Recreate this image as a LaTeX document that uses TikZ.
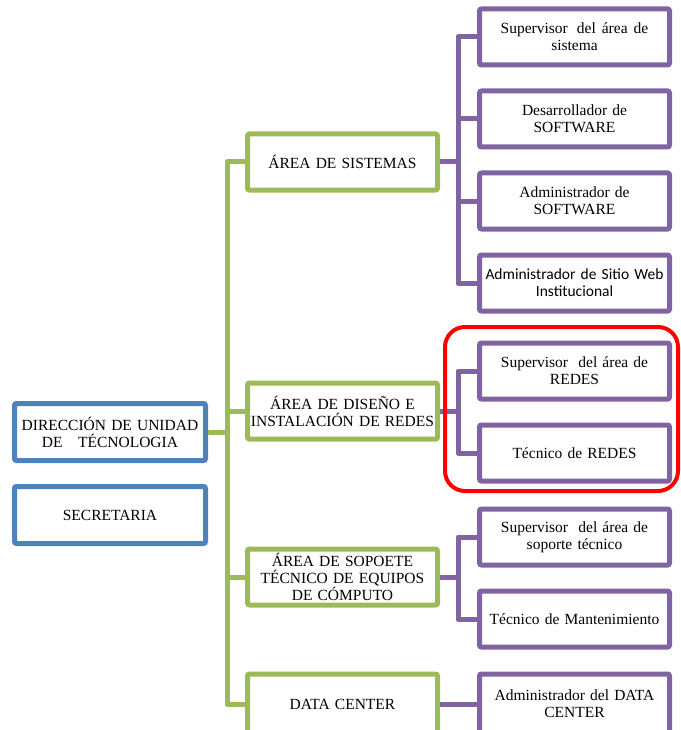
\documentclass[tikz,border=0pt]{standalone}
\usepackage{fontspec}
\setmainfont{Liberation Serif}
\newfontfamily\sansfont{Carlito}
\usetikzlibrary{positioning}
\definecolor{dirblue}{HTML}{4F81BD}
\definecolor{areagreen}{HTML}{9BBB59}
\definecolor{rolepurple}{HTML}{8064A2}

\begin{document}
\begin{tikzpicture}[x=1pt,y=-1pt,line width=5pt,node distance=82pt,
                    font=\fontsize{15.5}{17}\selectfont]
  \tikzstyle{every node}=[align=center,inner sep=2pt,rounded corners=2pt,fill=white]
  \tikzstyle{dirbox}=[draw=dirblue,minimum width=191pt,minimum height=57pt,text width=185pt]
  \tikzstyle{areabox}=[draw=areagreen,minimum width=190pt,minimum height=56pt,text width=184pt]
  \tikzstyle{rolebox}=[draw=rolepurple,minimum width=190pt,minimum height=56pt,text width=184pt]
  \tikzstyle{greenlink}=[draw=areagreen,line join=round]
  \tikzstyle{purplelink}=[draw=rolepurple,line join=round]
  \tikzstyle{redframe}=[draw=red,line width=4pt,rounded corners=20pt]

  \useasboundingbox (0,0) rectangle (680,730);
  \coordinate (trunk) at (227,0);
  \coordinate (bus) at (458,0);

  % direccion
  \node[dirbox] (dir) at (110,432) {DIRECCIÓN DE UNIDAD\\DE \ \ TÉCNOLOGIA};
  \node[dirbox] (sec) at (110,515) {SECRETARIA};

  % areas
  \node[areabox] (sis) at (342.5,162) {ÁREA DE SISTEMAS};
  \node[areabox] (dis) at (342.5,411) {ÁREA DE DISEÑO E\\INSTALACIÓN DE REDES};
  \node[areabox] (sop) at (342.5,577) {ÁREA DE SOPOETE\\TÉCNICO DE EQUIPOS\\DE CÓMPUTO};
  \node[areabox,minimum height=60pt] (dc) at (342.5,704) {DATA CENTER};

  % cargos
  \node[rolebox] (sup1) at (574.5,37) {Supervisor\hspace{9pt}del\hspace{6pt}área\hspace{6pt}de\\sistema};
  \node[rolebox] (des)  [below of=sup1] {Desarrollador de\\SOFTWARE};
  \node[rolebox] (adm)  [below of=des]  {Administrador de\\SOFTWARE};
  \node[rolebox] (web)  [below of=adm]  {\sansfont Administrador de Sitio Web\\\sansfont Institucional};

  \node[rolebox] (sup2) at (574.5,371) {Supervisor\ \ del área de\\REDES};
  \node[rolebox] (tec)  [below of=sup2] {Técnico de REDES};

  \node[rolebox] (sup3) at (574.5,537) {Supervisor\ \ del área de\\soporte técnico};
  \node[rolebox] (man)  [below of=sup3] {Técnico de Mantenimiento};

  \node[rolebox,minimum height=60pt] (adc) at (574.5,704) {Administrador del DATA\\CENTER};

  % green trunk
  \path[greenlink] (sis.west) -| (trunk |- dc.west) -- (dc.west)
        (dir.east) -- (dir.east -| trunk)
        (dis.west) -- (dis.west -| trunk)
        (sop.west) -- (sop.west -| trunk);

  % purple buses
  \path[purplelink] (sup1.west) -| (bus |- web.west) -- (web.west)
        (des.west) -- (des.west -| bus)
        (adm.west) -- (adm.west -| bus)
        (sis.east) -- (sis.east -| bus);
  \path[purplelink] (sup2.west) -| (bus |- tec.west) -- (tec.west)
        (dis.east) -- (dis.east -| bus);
  \path[purplelink] (sup3.west) -| (bus |- man.west) -- (man.west)
        (sop.east) -- (sop.east -| bus);
  \path[purplelink] (dc.east) -- (adc.west);

  \draw[redframe] (445,327) rectangle (678,491);
\end{tikzpicture}
\end{document}
